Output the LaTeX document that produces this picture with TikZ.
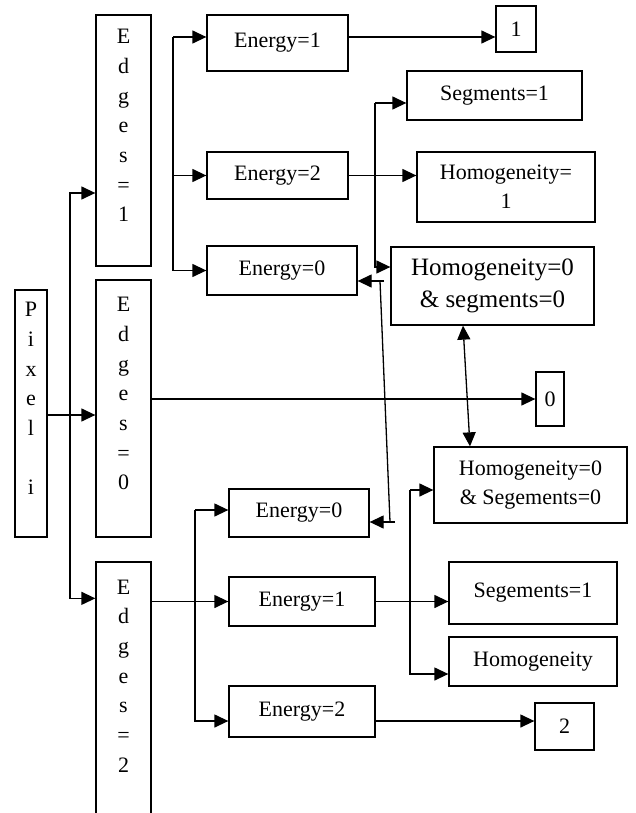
\documentclass[tikz,border=0pt]{standalone}
\usepackage{fontspec}
\setmainfont{Liberation Serif}
\usetikzlibrary{arrows.meta}

\tikzset{
  box/.style={draw,line width=1.3pt,rectangle,inner sep=0pt,align=center},
  arr/.style={line width=1.3pt,-{Triangle[length=14pt,width=13pt]}},
  darr/.style={line width=1.3pt,{Triangle[length=14pt,width=13pt]}-{Triangle[length=14pt,width=13pt]}},
}

\begin{document}
\begin{tikzpicture}[x=1pt,y=-1pt,font=\fontsize{22}{29}\selectfont]
\useasboundingbox (0,0) rectangle (636,813);

\begin{scope}[font=\fontsize{22}{29.7}\selectfont]
\node[box,minimum width=32,minimum height=247] (pix) at (31,413.5) {P\\i\\x\\e\\l\\\mbox{}\\i\\\mbox{}};
\node[box,minimum width=55,minimum height=251] (e1) at (123.5,140.5) {E\\d\\g\\e\\s\\=\\1\\\mbox{}};
\node[box,minimum width=55,minimum height=257] (e0) at (123.5,408.5) {E\\d\\g\\e\\s\\=\\0\\\mbox{}};
\node[box,minimum width=55,minimum height=317] (e2) at (123.5,720.5) {E\\d\\g\\e\\s\\=\\2\\\mbox{}\\\mbox{}\\\mbox{}};
\end{scope}

\node[box,minimum width=141,minimum height=56] (en1) at (277.5,43) {Energy=1};
\node[box,minimum width=141,minimum height=47] (en2) at (277.5,175.5) {Energy=2};
\node[box,minimum width=150,minimum height=49] (en0) at (282,270.5) {Energy=0};

\node[box,minimum width=40,minimum height=46] (one) at (516,29) {1};
\node[box,minimum width=175,minimum height=49] (seg1) at (494.5,95.5) {Segments=1};
\node[box,minimum width=178,minimum height=70] (hom1) at (506,187) {Homogeneity=\\1};
\node[box,minimum width=203,minimum height=78,font=\fontsize{25}{32}\selectfont] (hz) at (492.5,286) {Homogeneity=0\\\& segments=0};
\node[box,minimum width=28,minimum height=54] (zero) at (550,399) {0};
\node[box,minimum width=193,minimum height=76] (hz2) at (530.5,485) {Homogeneity=0\\\& Segements=0};

\node[box,minimum width=140,minimum height=48] (enb0) at (299,513) {Energy=0};
\node[box,minimum width=146,minimum height=49] (enb1) at (302,601.5) {Energy=1};
\node[box,minimum width=146,minimum height=51] (enb2) at (302,711.5) {Energy=2};

\node[box,minimum width=168,minimum height=62] (seg2) at (533,593) {Segements=1};
\node[box,minimum width=168,minimum height=49] (hom) at (533,661.5) {Homogeneity};
\node[box,minimum width=59,minimum height=47] (two) at (564.5,726.5) {2};

% pixel to edges
\coordinate (t0) at (70,415);
\draw[arr] ([yshift=-1.5pt]pix.east) -- ([yshift=-1.5pt]pix.east -| e0.west);
\draw[arr] (t0) |- ([yshift=-52.5pt]e1.west);
\draw[arr] (t0) |- ([yshift=-37pt]e2.north west);

% edges=1
\coordinate (t1) at (173,37);
\draw[arr] (t1) -- (t1 -| en1.west);
\draw[arr] (t1 |- en2.west) -- (en2.west);
\draw[arr] (t1) |- (en0.west);
\draw[arr] (t1 -| en1.east) -- (t1 -| one.west);
\draw[arr] (en2.east) -- (en2.east -| hom1.west);

\coordinate (t2) at (375,103);
\draw[arr] (t2) -- (t2 -| seg1.west);
\draw[arr] (t2) |- ([yshift=19pt]hz.west);

% edges=0
\draw[arr] (e0.east |- zero.west) -- (zero.west);

% energy=0 <-> energy=0
\coordinate (ka) at (380,281);
\coordinate (kb) at (390,522);
\draw[arr] ([xshift=4pt]ka) -- (ka -| en0.east);
\draw[line width=1.3pt] (ka) -- (kb);
\draw[arr] ([xshift=5pt]kb) -- (kb -| enb0.east);
\draw[darr] ([xshift=-29.5pt]hz.south) -- ([xshift=-60.5pt]hz2.north);

% edges=2
\coordinate (t3) at (195,510);
\draw[arr] (t3) -- (t3 -| enb0.west);
\draw[arr] (t3) |- ([yshift=-9.5pt]enb2.west);
\draw[arr] (enb1.west -| e2.east) -- (enb1.west);
\draw[arr] (enb1.east) -- (enb1.east -| seg2.west);

\coordinate (t4) at (410,490);
\draw[arr] (t4) -- (t4 -| hz2.west);
\draw[arr] (t4) |- ([yshift=-12.5pt]hom.west);
\draw[arr] ([yshift=-9.5pt]enb2.east) -- ([yshift=-9.5pt]enb2.east -| two.west);

\end{tikzpicture}
\end{document}
